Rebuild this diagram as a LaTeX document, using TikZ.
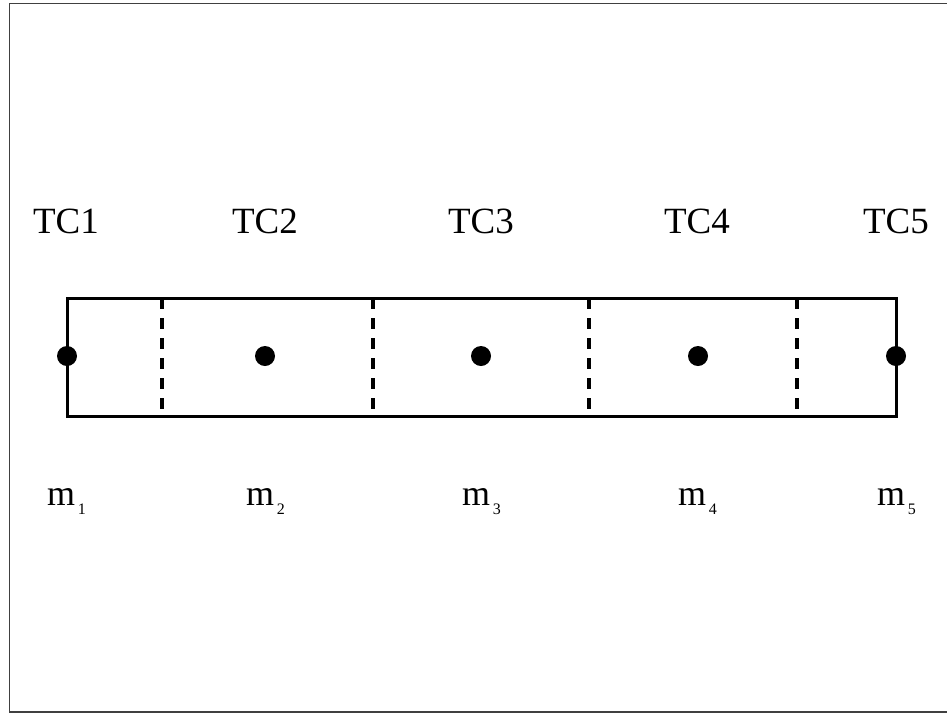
\documentclass[tikz,border=0pt]{standalone}
\usepackage{fontspec}
\setmainfont{Liberation Serif}
\begin{document}
\begin{tikzpicture}[x=1pt,y=-1pt,
  frameline/.style={draw=black!75,line width=1.2pt},
  boxline/.style={draw=black,line width=3pt},
  divline/.style={draw=black,line width=3.2pt,dash pattern=on 11pt off 9pt},
  mass/.style={circle,fill=black,inner sep=0pt,minimum size=20pt},
  tclabel/.style={inner sep=0pt,anchor=base,font=\fontsize{37}{40}\selectfont},
  mlabel/.style={inner sep=0pt,anchor=base,font=\fontsize{36}{40}\selectfont}]
\useasboundingbox (0,0) rectangle (947,713);
\draw[frameline] (948,3.5) -- (9.5,3.5) -- (9.5,712) -- (948,712);
% box corners
\coordinate (tl) at (67,298);
\coordinate (tr) at (896,298);
\coordinate (bl) at (67,416);
\coordinate (br) at (896,416);
\draw[boxline] (tl) -- (tr) -- (br) -- (bl) -- cycle;
% dashed dividers
\foreach \i/\x in {1/162,2/373,3/589,4/797}{
  \coordinate (d\i t) at (\x,298);
  \coordinate (d\i b) at (\x,416);
  \draw[divline] (d\i t) -- (d\i b);
}
% masses
\foreach \i/\x in {1/67,2/265,3/481,4/698,5/896}{
  \node[mass] (p\i) at (\x,356) {};
}
% labels
\foreach \i/\x in {1/66,2/265,3/481,4/697,5/896}{
  \node[tclabel] (tc\i) at (\x,233) {TC\i};
  \node[mlabel] (m\i) at (\x+0.5,505) {m\raisebox{-9pt}{\fontsize{16}{16}\selectfont\,\i}};
}
\end{tikzpicture}
\end{document}
